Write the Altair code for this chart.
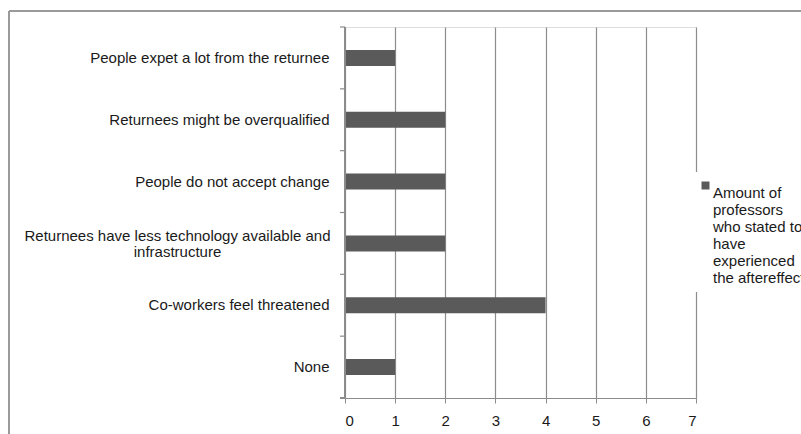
import altair as alt
import pandas as pd

categories = [
    "People expet a lot from the returnee",
    "Returnees might be overqualified",
    "People do not accept change",
    "Returnees have less technology available and\ninfrastructure",
    "Co-workers feel threatened",
    "None",
]
values = [1, 2, 2, 2, 4, 1]
series_name = "Amount of\nprofessors\nwho stated to\nhave\nexperienced\nthe aftereffect"
x_ticks = [0, 1, 2, 3, 4, 5, 6, 7]

df = pd.DataFrame({"cat": categories, "val": values, "series": [series_name] * len(categories)})

FONT = "Liberation Sans"
GRID = "#8c8c8c"
W, H = 351, 371
TWO_LINE = "indexof(datum.value, '\\n') >= 0"

y_axis = alt.Axis(
    title=None,
    ticks=False,
    domain=False,
    labelPadding={"condition": {"test": TWO_LINE, "value": 168}, "value": 16},
    labelAlign={"condition": {"test": TWO_LINE, "value": "center"}, "value": "right"},
    labelOffset={"condition": {"test": TWO_LINE, "value": -7}, "value": 0},
    labelFontSize=15,
    labelFont=FONT,
    labelColor="#1a1a1a",
    labelLimit=400,
    labelExpr="split(datum.label, '\\n')",
    labelLineHeight=16,
)
y_scale = alt.Scale(paddingInner=0, paddingOuter=0)

bars = alt.Chart(df).mark_bar(size=16).encode(
    x=alt.X(
        "val:Q",
        scale=alt.Scale(domain=[0, 7], nice=False),
        axis=alt.Axis(
            title=None,
            values=x_ticks,
            grid=True,
            gridColor=GRID,
            gridWidth=1.2,
            domainColor=GRID,
            domainWidth=1.2,
            tickColor=GRID,
            tickSize=5,
            labelPadding=10,
            labelFontSize=15,
            labelFont=FONT,
            labelColor="#1a1a1a",
            format="d",
        ),
    ),
    y=alt.Y("cat:N", sort=categories, scale=y_scale, axis=y_axis),
    color=alt.Color(
        "series:N",
        scale=alt.Scale(range=["#5a5a5a"]),
        legend=alt.Legend(
            title=None,
            orient="none",
            legendX=W - 4,
            legendY=145,
            fillColor="white",
            padding=6,
            symbolType="square",
            symbolSize=64,
            symbolStrokeWidth=0,
            labelFontSize=15,
            labelFont=FONT,
            labelColor="#1a1a1a",
            labelLimit=300,
            labelOffset=0,
            labelExpr="split(datum.label, '\\n')",
            labelBaseline="top",
        ),
    ),
)

ticks_df = pd.DataFrame({"cat": categories})
ytick_rules = alt.Chart(ticks_df).mark_rule(color=GRID, strokeWidth=1.2).encode(
    y=alt.Y("cat:N", sort=categories, bandPosition=0, scale=y_scale, axis=y_axis),
    x=alt.value(-5),
    x2=alt.value(0),
)
bottom_tick = alt.Chart(ticks_df).mark_rule(color=GRID, strokeWidth=1.2).encode(
    y=alt.value(H), x=alt.value(-5), x2=alt.value(0)
)
y_domain = alt.Chart(ticks_df).mark_rule(color=GRID, strokeWidth=1.2).encode(
    x=alt.value(0), y=alt.value(0), y2=alt.value(H)
)
border_v = alt.Chart(ticks_df).mark_rule(color="#9a9a9a", strokeWidth=1.5).encode(
    x=alt.value(-336), y=alt.value(-16), y2=alt.value(H + 60)
)
border_h = alt.Chart(ticks_df).mark_rule(color="#9a9a9a", strokeWidth=1.5).encode(
    y=alt.value(-16), x=alt.value(-336), x2=alt.value(W + 200)
)

chart = (
    alt.layer(border_v, border_h, bars, ytick_rules, bottom_tick, y_domain)
    .properties(
        width=W,
        height=H,
        autosize=alt.AutoSizeParams(type="none"),
        padding={"left": 345, "top": 27, "right": 105, "bottom": 36},
    )
    .configure_view(stroke=None)
    .configure(background="white")
    .configure_legend(labelFontSize=15)
)

chart.save("out.html", embed_options={"renderer": "svg", "actions": False})
